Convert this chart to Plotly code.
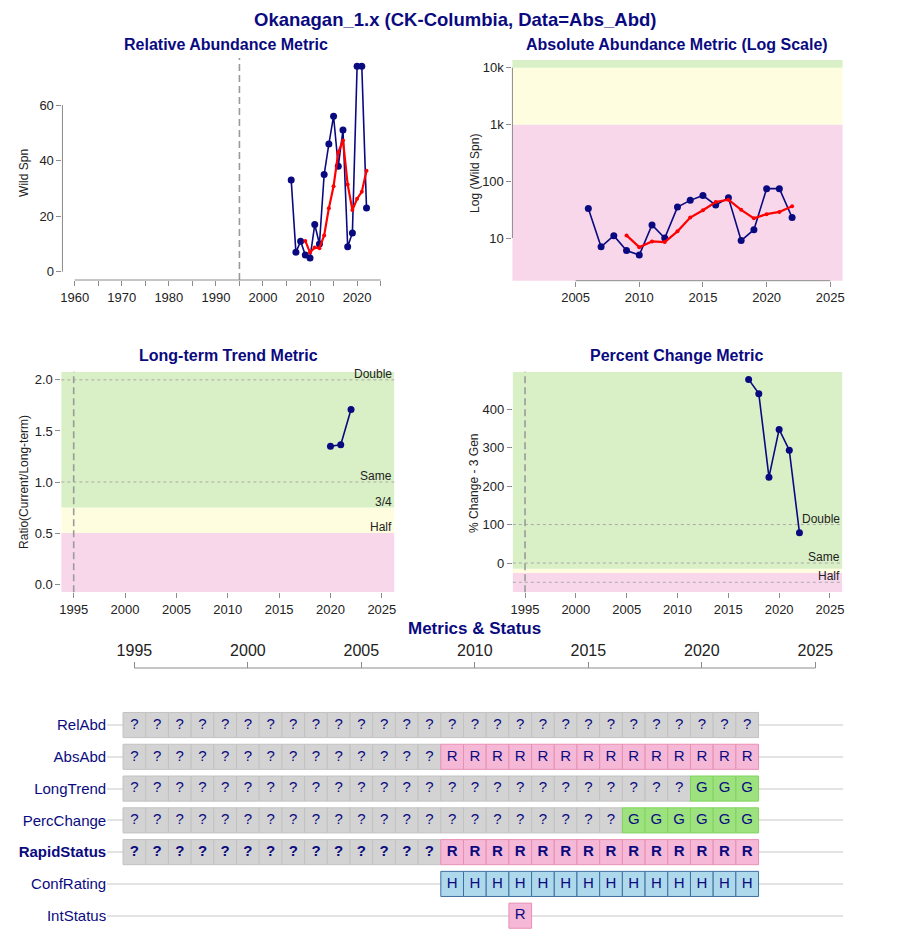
import plotly.graph_objects as go

W, H = 905, 938
OFF = 8  # browser body margin
FW, FH = W - 2 * OFF, H - 2 * OFF

# ---------------- data ----------------
spn_years = [2006, 2007, 2008, 2009, 2010, 2011, 2012, 2013, 2014, 2015, 2016, 2017, 2018, 2019, 2020, 2021, 2022]
wild_spn = [33, 7, 11, 6, 5, 17, 10, 35, 46, 56, 38, 51, 9, 14, 74, 74, 23]
gm_years = [2009, 2010, 2011, 2012, 2013, 2014, 2015, 2016, 2017, 2018, 2019, 2020, 2021, 2022]
gm_spn = [11.1, 6.9, 8.7, 8.5, 13.1, 22.9, 30.8, 43.0, 47.3, 31.4, 22.2, 26.3, 28.8, 36.4]
lt_years = [2020, 2021, 2022]
lt_ratio = [1.35, 1.365, 1.71]
pc_years = [2017, 2018, 2019, 2020, 2021, 2022]
pc_values = [477, 440, 223, 347, 293, 79]

grid_years = list(range(1995, 2023))
metric_rows = ["RelAbd", "AbsAbd", "LongTrend", "PercChange", "RapidStatus", "ConfRating", "IntStatus"]
metric_status = {
    "RelAbd":      "????????????????????????????",
    "AbsAbd":      "??????????????RRRRRRRRRRRRRR",
    "LongTrend":   "?????????????????????????GGG",
    "PercChange":  "??????????????????????GGGGGG",
    "RapidStatus": "??????????????RRRRRRRRRRRRRR",
    "ConfRating":  "..............HHHHHHHHHHHHHH",
    "IntStatus":   ".................R..........",
}

# ---------------- style ----------------
FONT = "Liberation Sans, Arial, sans-serif"
NAVY = "#0a0a80"
TXT = "#222222"
AX = "#8c8c8c"
GREEN_BG = "#d9f0c6"
YEL_BG = "#fffde0"
PINK_BG = "#f8d7eb"
cell_fill = {"?": "#d3d3d3", "R": "#f5b8d6", "G": "#9de27f", "H": "#aed9ec", "A": "#fff5a0"}
cell_line = {"?": "#c2c2c2", "R": "#e890b4", "G": "#80d45e", "H": "#3f6fa0", "A": "#e0d060"}


def clamp(v):
    return max(0.0, min(1.0, v))


def px_x(p):
    return clamp((p - OFF) / FW)


def px_y(p):
    return clamp(1 - (p - OFF) / FH)


fig = go.Figure()

# panel domains (page pixels)
dom = {
    1: ((60.7, 392.6), (58, 280)),
    2: ((512.7, 844.3), (60, 280.7)),
    3: ((59.6, 393.9), (371.7, 592.3)),
    4: ((513.1, 843.9), (371.7, 592.3)),
    5: ((105.6, 844.3), (700, 930)),
}

# ---------------- traces ----------------
fig.add_trace(go.Scatter(x=spn_years, y=wild_spn, mode="lines+markers", xaxis="x", yaxis="y",
                         line=dict(color=NAVY, width=1.6), marker=dict(color=NAVY, size=7), showlegend=False))
fig.add_trace(go.Scatter(x=gm_years, y=gm_spn, mode="lines+markers", xaxis="x", yaxis="y",
                         line=dict(color="#ff0000", width=2.2), marker=dict(color="#ff0000", size=4), showlegend=False))
fig.add_trace(go.Scatter(x=spn_years, y=wild_spn, mode="lines+markers", xaxis="x2", yaxis="y2",
                         line=dict(color=NAVY, width=1.6), marker=dict(color=NAVY, size=7), showlegend=False))
fig.add_trace(go.Scatter(x=gm_years, y=gm_spn, mode="lines+markers", xaxis="x2", yaxis="y2",
                         line=dict(color="#ff0000", width=2.2), marker=dict(color="#ff0000", size=4), showlegend=False))
fig.add_trace(go.Scatter(x=lt_years, y=lt_ratio, mode="lines+markers", xaxis="x3", yaxis="y3",
                         line=dict(color=NAVY, width=1.6), marker=dict(color=NAVY, size=7), showlegend=False))
fig.add_trace(go.Scatter(x=pc_years, y=pc_values, mode="lines+markers", xaxis="x4", yaxis="y4",
                         line=dict(color=NAVY, width=1.6), marker=dict(color=NAVY, size=7), showlegend=False))

# status grid
n_rows = len(metric_rows)
cell_h = 0.79
for i, name in enumerate(metric_rows):
    row_y = n_rows - i
    codes = metric_status[name]
    xs, fills, lines, texts = [], [], [], []
    for yr, c in zip(grid_years, codes):
        if c == ".":
            continue
        xs.append(yr)
        fills.append(cell_fill[c])
        lines.append(cell_line[c])
        texts.append("<b>%s</b>" % c if name == "RapidStatus" else c)
    fig.add_trace(go.Bar(x=xs, y=[cell_h] * len(xs), base=[row_y - cell_h / 2] * len(xs), width=1,
                         marker=dict(color=fills, line=dict(color=lines, width=1)),
                         xaxis="x5", yaxis="y5", showlegend=False, hoverinfo="skip"))
    fig.add_trace(go.Scatter(x=xs, y=[row_y] * len(xs), mode="text", text=texts,
                             textfont=dict(family=FONT, size=15, color=NAVY),
                             xaxis="x5", yaxis="y5", showlegend=False, hoverinfo="skip"))

# ---------------- axes ----------------
tickfont = dict(family=FONT, size=13, color=TXT)


def xax(k, rng, tickvals, ticktext=None, minor=None):
    d = dict(domain=[px_x(dom[k][0][0]), px_x(dom[k][0][1])], range=rng, anchor="y%d" % k if k > 1 else "y",
             tickvals=tickvals, ticks="outside", ticklen=5, tickcolor=AX, tickfont=tickfont,
             showgrid=False, zeroline=False, showline=False, fixedrange=True)
    if ticktext:
        d["ticktext"] = ticktext
    if minor:
        d["minor"] = dict(tickvals=minor, ticks="outside", ticklen=5, tickcolor=AX)
    return d


def yax(k, rng, tickvals, ticktext=None, typ="linear", fmt=None):
    d = dict(domain=[px_y(dom[k][1][1]), px_y(dom[k][1][0])], range=rng, anchor="x%d" % k if k > 1 else "x",
             tickvals=tickvals, ticks="outside", ticklen=5, tickcolor=AX, tickfont=tickfont, type=typ,
             showgrid=False, zeroline=False, showline=False, fixedrange=True)
    if ticktext:
        d["ticktext"] = ticktext
    if fmt:
        d["tickformat"] = fmt
    return d


layout = dict(
    width=FW, height=FH, margin=dict(l=0, r=0, t=0, b=0), paper_bgcolor="white", plot_bgcolor="white",
    font=dict(family=FONT, color=TXT), barmode="overlay", showlegend=False,
    xaxis=xax(1, [1957.4, 2027.6], [1960, 1970, 1980, 1990, 2000, 2010, 2020],
              minor=[1965, 1975, 1985, 1995, 2005, 2015, 2025]),
    yaxis=yax(1, [-2.96, 76.96], [0, 20, 40, 60]),
    xaxis2=xax(2, [2000.04, 2025.96], [2005, 2010, 2015, 2020, 2025]),
    yaxis2=yax(2, [0.248, 4.135], [10, 100, 1000, 10000], ["10", "100", "1k", "10k"], typ="log"),
    xaxis3=xax(3, [1993.8, 2026.2], [1995, 2000, 2005, 2010, 2015, 2020, 2025]),
    yaxis3=yax(3, [-0.08, 2.08], [0, 0.5, 1.0, 1.5, 2.0], fmt=".1f"),
    xaxis4=xax(4, [1993.8, 2026.2], [1995, 2000, 2005, 2010, 2015, 2020, 2025]),
    yaxis4=yax(4, [-76, 497], [0, 100, 200, 300, 400]),
    xaxis5=dict(domain=[px_x(dom[5][0][0]), px_x(dom[5][0][1])], range=[1993.8, 2026.2], anchor="free",
                position=px_y(668), side="top", tickvals=[1995, 2000, 2005, 2010, 2015, 2020, 2025],
                ticks="outside", ticklen=6, tickcolor=AX, tickfont=dict(family=FONT, size=16, color=TXT),
                showgrid=False, zeroline=False, showline=False, fixedrange=True),
    yaxis5=dict(domain=[px_y(dom[5][1][1]), px_y(dom[5][1][0])], range=[0.55, 7.787], anchor="x5",
                tickvals=[n_rows - i for i in range(n_rows)],
                ticktext=["<b>%s</b>" % m if m == "RapidStatus" else m for m in metric_rows],
                tickfont=dict(family=FONT, size=15, color=NAVY), ticks="", showgrid=True,
                gridcolor="#e3e3e3", gridwidth=1.5, zeroline=False, showline=False, fixedrange=True),
)
fig.update_layout(**layout)

# ---------------- shapes ----------------
shapes = []


def xr(k):
    return "x" if k == 1 else "x%d" % k


def yr(k):
    return "y" if k == 1 else "y%d" % k


def band(k, y0, y1, color):
    shapes.append(dict(type="rect", xref=xr(k) + " domain", yref=yr(k), x0=0, x1=1, y0=y0, y1=y1,
                       fillcolor=color, line=dict(width=0), layer="below"))


# backgrounds
band(2, 1.5, 1000, PINK_BG)
band(2, 1000, 10000, YEL_BG)
band(2, 10000, 14000, GREEN_BG)
band(3, -0.08, 0.5, PINK_BG)
band(3, 0.5, 0.75, YEL_BG)
band(3, 0.75, 2.08, GREEN_BG)
band(4, -76, -25, PINK_BG)
band(4, -25, -15, YEL_BG)
band(4, -15, 497, GREEN_BG)

# horizontal dashed reference lines
for k, yv in [(3, 2.0), (3, 1.0), (4, 100), (4, 0), (4, -50)]:
    shapes.append(dict(type="line", xref=xr(k) + " domain", yref=yr(k), x0=0, x1=1, y0=yv, y1=yv,
                       line=dict(color="#aaaaaa", width=1, dash="3px,3px"), layer="below"))

# vertical dashed at 1995
for k in (1, 3, 4):
    shapes.append(dict(type="line", xref=xr(k), yref=yr(k) + " domain", x0=1995, x1=1995, y0=0, y1=1,
                       line=dict(color="#9a9a9a", width=1.6, dash="7px,4px"), layer="below"))

# axis lines (R style)
shapes.append(dict(type="line", xref="x", yref="y domain", x0=1960, x1=2025, y0=0, y1=0,
                   line=dict(color=AX, width=1)))
shapes.append(dict(type="line", xref="x domain", yref="y", x0=0, x1=0, y0=0, y1=60,
                   line=dict(color=AX, width=1)))
shapes.append(dict(type="line", xref="x2", yref="y2 domain", x0=2005, x1=2025, y0=0, y1=0,
                   line=dict(color=AX, width=1)))
shapes.append(dict(type="line", xref="x2 domain", yref="y2", x0=0, x1=0, y0=10, y1=10000,
                   line=dict(color=AX, width=1)))
shapes.append(dict(type="line", xref="x5", yref="paper", x0=1995, x1=2025, y0=px_y(668), y1=px_y(668),
                   line=dict(color=AX, width=1.2)))

fig.update_layout(shapes=shapes)

# ---------------- annotations ----------------
ann = []


def title_ann(text, x, y, size, top=False):
    a = dict(text="<b>%s</b>" % text, xref="paper", yref="paper", x=px_x(x), y=px_y(y),
             showarrow=False, xanchor="center", yanchor="middle",
             font=dict(family=FONT, size=size, color=NAVY))
    if top:
        a.update(y=1, yanchor="top", borderpad=0)
    ann.append(a)


title_ann("Okanagan_1.x (CK-Columbia, Data=Abs_Abd)", 455, 15, 18.5, top=True)
title_ann("Relative Abundance Metric", 225, 45, 16)
title_ann("Absolute Abundance Metric (Log Scale)", 678, 45, 16)
title_ann("Long-term Trend Metric", 227, 356, 16)
title_ann("Percent Change Metric", 678, 356, 16)
title_ann("Metrics & Status", 475, 628, 17)


def ytitle(text, x, y):
    ann.append(dict(text=text, xref="paper", yref="paper", x=px_x(x), y=px_y(y), textangle=-90,
                    showarrow=False, xanchor="center", yanchor="middle",
                    font=dict(family=FONT, size=12, color=TXT)))


ytitle("Wild Spn", 22, 173)
ytitle("Log (Wild Spn)", 475, 173)
ytitle("Ratio(Current/Long-term)", 22, 482)
ytitle("% Change - 3 Gen", 474, 483)


def ref_label(k, text, yv):
    ann.append(dict(text=text, xref=xr(k) + " domain", yref=yr(k), x=1, y=yv, xanchor="right",
                    yanchor="middle", yshift=6, showarrow=False, font=dict(family=FONT, size=12, color=TXT)))


ref_label(3, "Double", 2.0)
ref_label(3, "Same", 1.0)
ref_label(3, "3/4", 0.75)
ref_label(3, "Half", 0.5)
ref_label(4, "Double", 100)
ref_label(4, "Same", 0)
ref_label(4, "Half", -50)

fig.update_layout(annotations=ann)

fig.write_html("out.html")
